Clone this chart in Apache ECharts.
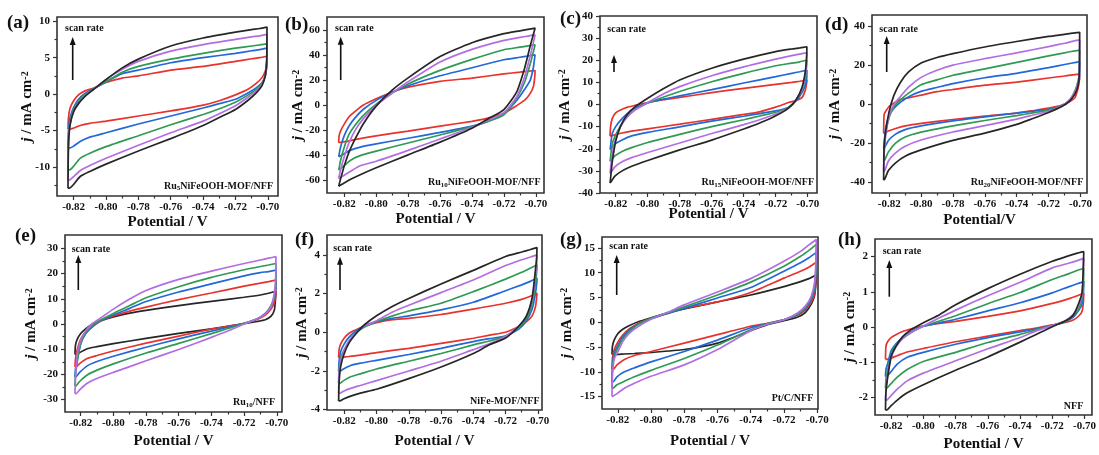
<!DOCTYPE html>
<html>
<head>
<meta charset="utf-8">
<script src="https://cdn.jsdelivr.net/npm/echarts@6/dist/echarts.min.js"></script>
<style>
  html, body { margin: 0; padding: 0; background: #fff; }
  #chart { width: 1099px; height: 455px; }
</style>
</head>
<body>
<div id="chart"></div>
<script>
// Potential sampling points (V): anodic sweep, then cathodic sweep back to the start
const sweepForward = [-0.8235, -0.8232, -0.8222, -0.8200, -0.8170, -0.8130, -0.8080, -0.8000, -0.7900, -0.7800, -0.7600, -0.7400, -0.7200, -0.7100, -0.7050, -0.7005];
const sweepReverse = [-0.7007, -0.7015, -0.7035, -0.7070, -0.7120, -0.7200, -0.7300, -0.7400, -0.7600, -0.7800, -0.8000, -0.8100, -0.8160, -0.8205, -0.8228];

// Current density (mA cm^-2): 16 forward values followed by 15 reverse values
// (a) Ru5NiFeOOH-MOF/NFF
const aRed    = [-4.8, -3.2, -1.9, -0.9, -0.1, 0.45, 0.8, 1.6, 2.2, 2.5, 3.3, 3.8, 4.5, 4.85, 5.0, 5.2,   4.3, 3.2, 2.3, 1.5, 0.7, -0.1, -0.9, -1.5, -2.3, -3.0, -3.7, -4.0, -4.3, -4.7, -4.8];
const aBlue   = [-7.4, -5.0, -3.2, -1.8, -0.7, 0.1, 0.7, 1.7, 2.8, 3.3, 4.3, 5.0, 5.6, 5.95, 6.1, 6.3,   3.9, 2.6, 1.6, 0.9, 0.2, -0.7, -1.3, -1.9, -3.0, -4.1, -5.3, -5.9, -6.5, -7.2, -7.4];
const aGreen  = [-10.4, -6.0, -3.7, -2.1, -1.0, -0.1, 0.7, 1.7, 3.0, 3.8, 4.8, 5.6, 6.3, 6.6, 6.75, 6.9,   4.0, 2.6, 1.5, 0.7, -0.1, -1.1, -2.0, -2.8, -4.2, -5.7, -7.2, -8.1, -8.8, -10.0, -10.4];
const aPurple = [-11.8, -6.5, -4.0, -2.3, -1.2, -0.2, 0.6, 2.0, 3.4, 4.5, 5.9, 6.8, 7.5, 7.85, 8.0, 8.2,   4.2, 2.6, 1.4, 0.5, -0.4, -1.6, -2.7, -3.7, -5.3, -7.0, -8.8, -9.8, -10.5, -11.4, -11.8];
const aBlack  = [-12.9, -7.0, -4.2, -2.4, -1.3, -0.3, 0.6, 2.0, 3.6, 4.8, 6.6, 7.7, 8.5, 8.85, 9.0, 9.2,   4.5, 2.6, 1.2, 0.2, -0.8, -2.1, -3.2, -4.3, -6.1, -7.8, -9.6, -10.6, -11.3, -12.5, -12.9];
// (b) Ru10NiFeOOH-MOF/NFF
const bRed    = [-30.1, -24.5, -20.5, -15.3, -9.4, -4.9, 0, 5, 10.4, 14.2, 18.9, 21.5, 24.8, 26.2, 26.9, 27.5,   22, 15, 9.3, 3.8, -0.5, -6.5, -10.5, -13, -16.9, -20.8, -24.6, -26.8, -28.4, -29.4, -29.9];
const bBlue   = [-41.3, -39.4, -33.1, -24.4, -16.7, -9.9, -3.4, 3.7, 10.1, 15.4, 23.3, 29.7, 36.1, 38.1, 39.1, 40,   38.1, 30.3, 19.8, 12.5, 3.6, -7, -13.1, -16.8, -21.9, -26.5, -31.0, -33.6, -36, -39.2, -40.8];
const bGreen  = [-52, -50.1, -43.7, -33.7, -23.5, -15.8, -8.2, 0.6, 9.5, 16.8, 27.6, 36.4, 44.1, 46.1, 47.1, 48,   46.9, 42.7, 32.8, 18.3, 5.5, -7.8, -13.1, -17.3, -23.9, -30.3, -36.8, -40.4, -44.0, -48.8, -51.3];
const bPurple = [-58.7, -57, -51.3, -41.3, -30.1, -19.8, -10.9, -0.2, 9.5, 18.5, 34.3, 44.4, 51.6, 53.9, 55, 56,   54.8, 50.2, 39.3, 22.5, 6.6, -6.2, -12.1, -17.8, -27.1, -36.2, -44.9, -48.5, -52.8, -56.4, -58.2];
const bBlack  = [-64.8, -63.4, -58.5, -48.6, -37.6, -26.7, -14.9, -0.9, 11.8, 21.6, 38.6, 49.7, 56.9, 59.2, 60.3, 61.3,   60.3, 56.6, 47.3, 29.6, 10.5, -3.6, -11.1, -18.5, -29.6, -39.8, -50.1, -55.6, -59.3, -62.6, -64.3];
// (c) Ru15NiFeOOH-MOF/NFF
const cRed    = [-14.3, -10, -6.5, -3.8, -2.5, -1.3, -0.4, 0.9, 2.2, 3.2, 5.4, 7.3, 9.1, 10, 10.5, 11,   9.5, 6.5, 3.2, 1.9, 0.9, -1.2, -3.3, -4.5, -6.7, -8.9, -11.0, -12.0, -12.9, -13.7, -14.2];
const cBlue   = [-20.4, -18.8, -13.2, -10, -7.2, -4.2, -1.6, 0.8, 2.4, 3.9, 6.7, 9.7, 12.6, 14.1, 14.8, 15.5,   11.2, 8.7, 5.5, 1.8, -1.2, -2.9, -4.1, -5.3, -7.5, -10.1, -12.6, -14.2, -16, -17.9, -19.8];
const cGreen  = [-25.7, -23.9, -17.9, -13.7, -9.7, -5.6, -2.4, 0.7, 3.4, 5.9, 10.3, 14.1, 17.5, 18.7, 19.3, 20,   17.5, 11.5, 6.8, 2.5, -1.3, -3.5, -5.2, -6.9, -10, -13.5, -17.2, -19.5, -21.2, -23.2, -25.1];
const cPurple = [-31.2, -29.1, -22.8, -15.5, -10.1, -5.9, -2.5, 0.8, 4.9, 8.1, 13, 17, 20.5, 22.1, 22.8, 23.4,   19.5, 13.2, 7.2, 2.4, -1.5, -4.3, -6.9, -9.1, -13.1, -17.4, -21.7, -24.0, -25.9, -28.2, -30.5];
const cBlack  = [-35.5, -33.4, -26.3, -16.6, -9.9, -4.7, -1.1, 2.8, 7.2, 11.1, 16.4, 20.5, 23.9, 25.1, 25.6, 26.1,   21.6, 15.0, 7.9, 2.4, -1.6, -5.1, -8.4, -11.1, -16.1, -20.5, -25.3, -27.9, -30.0, -32.4, -34.8];
// (d) Ru20NiFeOOH-MOF/NFF
const dRed    = [-15.2, -5.5, -3.8, -1.2, 0.5, 2.2, 3.1, 4.5, 6.3, 7.4, 9.6, 11.2, 13.3, 14.3, 14.9, 15.3,   12, 8, 3.1, 1.1, -0.7, -2.2, -3.5, -4.7, -6.3, -8.0, -10.0, -11.3, -12.6, -13.9, -14.9];
const dBlue   = [-22.9, -20.3, -12.2, -5.8, -2.2, 0.8, 3.6, 6.4, 8.4, 10.4, 13.4, 15.7, 18.6, 20.2, 21, 21.7,   12.5, 10.2, 5.8, 1.3, -1.1, -2.8, -3.8, -4.7, -6.7, -8.7, -11.3, -13.2, -15.5, -18.8, -22.3];
const dGreen  = [-29.2, -24.3, -15.1, -6.8, -1.3, 2, 5.4, 9.8, 12.3, 14.7, 18, 21.3, 24.6, 26.2, 27, 27.6,   15.6, 11.7, 6.7, 1.8, -1.1, -3.2, -4.6, -6, -8.5, -11.3, -14.5, -17, -20.1, -24.6, -28.8];
const dPurple = [-34.8, -25.9, -15.7, -5.9, -0.2, 3.7, 8.5, 13.6, 17.3, 19.9, 23.2, 26.2, 29.4, 31.1, 32.1, 32.8,   16, 11.2, 6, 1.9, -1.2, -3.8, -5.8, -7.8, -11.1, -14.4, -18.5, -21.7, -25.1, -29.3, -34.3];
const dBlack  = [-39.1, -22, -14, -3.7, 4.5, 11, 16.3, 21, 23.8, 25.8, 29.2, 32, 34.6, 35.7, 36.3, 36.7,   16, 9.5, 5, 1.3, -1.5, -4.4, -7.5, -10.5, -15, -18.7, -23.6, -26.8, -30.2, -34.2, -38.6];
// (e) Ru10/NFF
const eBlack  = [-12.1, -8.5, -6.2, -3.8, -1.9, -0.1, 1.2, 2.8, 4.3, 5.4, 7.3, 9, 10.6, 11.5, 12.2, 13,   10.5, 5.5, 3.1, 1.7, 1.0, 0.1, -0.9, -1.9, -3.7, -5.7, -7.8, -9.0, -9.8, -11.3, -12.1];
const eRed    = [-17, -14, -10.4, -6, -3.4, -1.2, 1.1, 3.2, 5.1, 6.7, 9.7, 12.3, 15, 16.2, 16.8, 17.4,   11.5, 8.5, 5.9, 3.5, 1.8, 0.3, -0.9, -2.0, -4.8, -7.6, -10.7, -12.5, -13.7, -15.6, -17];
const eBlue   = [-21, -18, -14.2, -7.8, -3.9, -1.1, 1.3, 3.6, 6.2, 8.9, 12.7, 15.9, 19.1, 20.4, 20.8, 21.4,   13, 10.3, 7.2, 4.2, 2.1, 0.3, -1.3, -2.8, -5.9, -9.2, -12.8, -14.9, -16.6, -19.1, -20.9];
const eGreen  = [-24.6, -20.5, -15.4, -7.8, -3.5, -0.7, 1.5, 4.2, 7.3, 10.4, 14.8, 18.5, 21.5, 22.8, 23.4, 24,   15.5, 10.9, 7.3, 4.1, 2.0, 0.2, -1.8, -3.8, -7.7, -11.5, -15.8, -18.3, -20.2, -22.7, -24.5];
const ePurple = [-27.6, -22, -12.5, -6.4, -2.8, 0.1, 2.3, 5.9, 9.9, 13.3, 17.7, 21, 24, 25.4, 26.1, 26.7,   18, 12.1, 7, 3.9, 2.1, 0, -2.8, -5.3, -10.1, -14.6, -19.2, -21.6, -23.5, -26, -27.6];
// (f) NiFe-MOF/NFF
const fRed    = [-1.31, -0.9, -0.6, -0.3, -0.05, 0.12, 0.3, 0.5, 0.65, 0.72, 0.92, 1.2, 1.5, 1.7, 1.85, 2.02,   1.8, 1.3, 0.85, 0.55, 0.28, 0.0, -0.15, -0.31, -0.57, -0.83, -1.05, -1.18, -1.24, -1.29, -1.31];
const fBlue   = [-2.03, -1.5, -1.0, -0.6, -0.25, 0.05, 0.3, 0.55, 0.72, 0.85, 1.16, 1.55, 2.15, 2.45, 2.62, 2.79,   2.5, 2.0, 1.2, 0.6, 0.15, -0.2, -0.33, -0.48, -0.83, -1.15, -1.45, -1.6, -1.72, -1.9, -2.03];
const fGreen  = [-2.64, -1.9, -1.3, -0.9, -0.45, -0.05, 0.25, 0.55, 0.85, 1.1, 1.5, 2.1, 2.75, 3.1, 3.3, 3.48,   3.1, 2.5, 1.5, 0.7, 0.25, -0.2, -0.45, -0.65, -1.1, -1.5, -1.9, -2.15, -2.3, -2.5, -2.64];
const fPurple = [-3.16, -2.1, -1.45, -0.95, -0.45, -0.05, 0.3, 0.6, 1.05, 1.4, 2.05, 2.7, 3.45, 3.75, 3.88, 4.0,   3.5, 2.9, 1.7, 0.85, 0.3, -0.22, -0.6, -0.9, -1.5, -2.0, -2.5, -2.75, -2.9, -3.05, -3.16];
const fBlack  = [-3.55, -2.6, -1.75, -1.1, -0.55, -0.1, 0.35, 0.85, 1.35, 1.75, 2.5, 3.2, 3.92, 4.15, 4.27, 4.38,   3.9, 3.2, 1.8, 0.85, 0.3, -0.3, -0.65, -1.1, -1.8, -2.4, -2.95, -3.15, -3.3, -3.45, -3.55];
// (g) Pt/C/NFF
const gBlack  = [-6.5, -4.8, -3.6, -2.3, -1.4, -0.65, 0.05, 0.9, 1.9, 2.7, 4.1, 5.5, 7.2, 8.2, 8.8, 9.6,   8.0, 5.5, 3.7, 2.0, 1.0, 0.3, -0.5, -1.7, -4.2, -5.5, -6.1, -6.3, -6.4, -6.5, -6.5];
const gRed    = [-9.5, -7.3, -5.6, -4, -2.6, -1.3, -0.3, 0.8, 1.8, 2.8, 4.1, 6, 8.9, 10.3, 11.1, 12.1,   9.3, 5.8, 4.1, 2.5, 1.4, 0.5, -0.2, -0.8, -2.5, -4.2, -5.9, -6.7, -7.5, -8.6, -9.5];
const gBlue   = [-12, -8.8, -6.3, -4.7, -3.0, -1.6, -0.4, 0.7, 1.8, 2.8, 4.9, 7.0, 10.3, 12, 13, 14.1,   10.5, 6.8, 4.6, 2.8, 1.5, 0.5, -0.3, -1.1, -3.6, -5.9, -8, -9.2, -10, -11, -12];
const gGreen  = [-13.3, -9.5, -7, -5.2, -3.4, -1.9, -0.5, 0.8, 1.9, 3.1, 5.5, 8.1, 11.3, 13.3, 14.5, 15.7,   11.5, 7.5, 5.0, 3.0, 1.6, 0.5, -0.3, -1.5, -4.6, -7.3, -9.7, -11, -11.9, -12.6, -13.3];
const gPurple = [-15, -10.6, -7.5, -5.95, -3.9, -2.2, -0.9, 0.6, 2.0, 3.5, 6.1, 8.8, 12.3, 14.3, 15.6, 16.7,   12.5, 8.2, 5.3, 3.3, 1.8, 0.5, -0.4, -1.7, -5.5, -8.6, -10.9, -12.3, -13.3, -14.4, -14.9];
// (h) NFF
const hRed    = [-0.92, -0.55, -0.42, -0.3, -0.22, -0.13, -0.06, 0.03, 0.1, 0.16, 0.3, 0.46, 0.67, 0.8, 0.88, 0.96,   0.72, 0.45, 0.32, 0.2, 0.13, 0.06, -0.03, -0.1, -0.26, -0.42, -0.61, -0.71, -0.81, -0.89, -0.92];
const hBlue   = [-1.41, -1.2, -1.05, -0.68, -0.48, -0.3, -0.14, 0.02, 0.12, 0.22, 0.46, 0.69, 0.97, 1.14, 1.22, 1.29,   0.95, 0.66, 0.48, 0.28, 0.15, 0.05, -0.05, -0.14, -0.3, -0.49, -0.72, -0.86, -1.05, -1.29, -1.41];
const hGreen  = [-1.74, -1.5, -1.24, -0.8, -0.5, -0.33, -0.17, 0.02, 0.17, 0.32, 0.66, 0.98, 1.35, 1.51, 1.6, 1.67,   1.2, 0.81, 0.52, 0.33, 0.16, 0.04, -0.08, -0.21, -0.44, -0.72, -0.98, -1.21, -1.42, -1.63, -1.74];
const hPurple = [-2.08, -1.8, -1.38, -0.88, -0.56, -0.34, -0.16, 0.03, 0.26, 0.48, 0.89, 1.27, 1.68, 1.81, 1.88, 1.95,   1.6, 0.9, 0.62, 0.36, 0.18, 0.04, -0.11, -0.3, -0.62, -0.96, -1.31, -1.53, -1.76, -1.97, -2.08];
const hBlack  = [-2.36, -1.84, -1.45, -0.84, -0.55, -0.28, -0.09, 0.12, 0.35, 0.63, 1.09, 1.5, 1.87, 2.02, 2.09, 2.14,   1.8, 1.0, 0.69, 0.34, 0.17, 0.01, -0.21, -0.43, -0.85, -1.23, -1.64, -1.87, -2.07, -2.26, -2.36];

// Tick values
const xMajorTicks = [-0.82, -0.80, -0.78, -0.76, -0.74, -0.72, -0.70];
const xMinorTicks = [-0.81, -0.79, -0.77, -0.75, -0.73, -0.71];
const aYMajor = [-10, -5, 0, 5, 10];        const aYMinor = [-12.5, -7.5, -2.5, 2.5, 7.5];
const bYMajor = [-60, -40, -20, 0, 20, 40, 60]; const bYMinor = [-50, -30, -10, 10, 30, 50];
const cYMajor = [-40, -30, -20, -10, 0, 10, 20, 30, 40]; const cYMinor = [-35, -25, -15, -5, 5, 15, 25, 35];
const dYMajor = [-40, -20, 0, 20, 40];      const dYMinor = [-30, -10, 10, 30];
const eYMajor = [-30, -20, -10, 0, 10, 20, 30]; const eYMinor = [-25, -15, -5, 5, 15, 25];
const fYMajor = [-4, -2, 0, 2, 4];          const fYMinor = [-3, -1, 1, 3];
const gYMajor = [-15, -10, -5, 0, 5, 10, 15]; const gYMinor = [-12.5, -7.5, -2.5, 2.5, 7.5, 12.5];
const hYMajor = [-2, -1, 0, 1, 2];          const hYMinor = [-1.5, -0.5, 0.5, 1.5];

// Text
const panelLetters = ['(a)', '(b)', '(c)', '(d)', '(e)', '(f)', '(g)', '(h)'];
const sampleNames = ['Ru{s|5}NiFeOOH-MOF/NFF', 'Ru{s|10}NiFeOOH-MOF/NFF', 'Ru{s|15}NiFeOOH-MOF/NFF', 'Ru{s|20}NiFeOOH-MOF/NFF',
                     'Ru{s|10}/NFF', 'NiFe-MOF/NFF', 'Pt/C/NFF', 'NFF'];
const xTitles = ['Potential / V', 'Potential / V', 'Potential / V', 'Potential/V',
                 'Potential / V', 'Potential / V', 'Potential / V', 'Potential / V'];

const COLORS = { red: '#e8322c', blue: '#2168d8', green: '#2f9a52', purple: '#b36de3', black: '#262626' };
const SERIF = '"Liberation Serif", "Times New Roman", serif';

// Layout of each panel: plot box in px, axis ranges, label placements
const panels = [
  { box: [57, 17, 278, 196],   xr: [-0.8303, -0.6937], yr: [-13.97, 10.58], yMaj: aYMajor, yMin: aYMinor, yGap: 22, xGap: 19,
    loops: [['red', aRed], ['blue', aBlue], ['green', aGreen], ['purple', aPurple], ['black', aBlack]],
    letter: [7, 23], scan: [65, 28], arrow: [72.7, 37, 80], inner: [273, 186] },
  { box: [327, 17, 544, 193],  xr: [-0.8308, -0.6949], yr: [-70.2, 70.2], yMaj: bYMajor, yMin: bYMinor, yGap: 21, xGap: 19,
    loops: [['red', bRed], ['blue', bBlue], ['green', bGreen], ['purple', bPurple], ['black', bBlack]],
    letter: [285, 25], scan: [335, 28.3], arrow: [340.7, 36.7, 80], inner: [540.5, 182.7] },
  { box: [600, 16, 817, 193],  xr: [-0.8298, -0.6942], yr: [-40, 40], yMaj: cYMajor, yMin: cYMinor, yGap: 27.5, xGap: 14,
    loops: [['red', cRed], ['blue', cBlue], ['green', cGreen], ['purple', cPurple], ['black', cBlack]],
    letter: [560, 19], scan: [607.3, 29.3], arrow: [614, 55, 72], inner: [814, 182.7] },
  { box: [872, 15, 1087, 193], xr: [-0.8308, -0.6959], yr: [-45.7, 45.6], yMaj: dYMajor, yMin: dYMinor, yGap: 29, xGap: 20,
    loops: [['red', dRed], ['blue', dBlue], ['green', dGreen], ['purple', dPurple], ['black', dBlack]],
    letter: [825, 25], scan: [879.3, 29.3], arrow: [886.7, 36, 72], inner: [1083.3, 182.7] },
  { box: [65, 235, 282, 412],  xr: [-0.8296, -0.6968], yr: [-34.9, 35.3], yMaj: eYMajor, yMin: eYMinor, yGap: 26, xGap: 22,
    loops: [['black', eBlack], ['red', eRed], ['blue', eBlue], ['green', eGreen], ['purple', ePurple]],
    letter: [15, 236], scan: [71.7, 249], arrow: [78.3, 255, 290], inner: [275, 402.7] },
  { box: [327, 235, 542, 410], xr: [-0.8307, -0.6974], yr: [-4.02, 5.03], yMaj: fYMajor, yMin: fYMinor, yGap: 17.5, xGap: 24,
    loops: [['red', fRed], ['blue', fBlue], ['green', fGreen], ['purple', fPurple], ['black', fBlack]],
    letter: [295, 240], scan: [333.3, 248.3], arrow: [340, 256.7, 290], inner: [539.5, 401.7] },
  { box: [602, 237, 818, 409], xr: [-0.8295, -0.6995], yr: [-17.5, 17.2], yMaj: gYMajor, yMin: gYMinor, yGap: 27.5, xGap: 25,
    loops: [['black', gBlack], ['red', gRed], ['blue', gBlue], ['green', gGreen], ['purple', gPurple]],
    letter: [560, 240], scan: [609.3, 246.7], arrow: [616.7, 255, 295], inner: [813.3, 398.3] },
  { box: [875, 239, 1095, 415], xr: [-0.8300, -0.6954], yr: [-2.5, 2.5], yMaj: hYMajor, yMin: hYMinor, yGap: 17.5, xGap: 22,
    loops: [['red', hRed], ['blue', hBlue], ['green', hGreen], ['purple', hPurple], ['black', hBlack]],
    letter: [838, 240], scan: [882.7, 251.7], arrow: [889.3, 260, 296.7], inner: [1083.3, 406.7] }
];

// Turn a list of currents into a closed voltammogram path
function loopPoints(values) {
  const potentials = sweepForward.concat(sweepReverse);
  const pts = potentials.map((v, i) => [v, values[i]]);
  pts.push(pts[0].slice());
  return pts;
}

const grids = [], xAxes = [], yAxes = [], series = [], graphics = [];
const n = panels.length;
const tickStyle = { color: '#333', width: 1.2 };
const labelFont = { fontFamily: SERIF, fontWeight: 'bold', fontSize: 11, color: '#111' };
const hiddenLine = { show: false, onZero: false };

panels.forEach((p, i) => {
  const [L, T, R, B] = p.box;
  grids.push({ left: L, top: T, width: R - L, height: B - T, show: true,
               borderColor: '#333', borderWidth: 1.6, backgroundColor: 'transparent', containLabel: false });
  xAxes[i] = {
    type: 'value', gridIndex: i, min: p.xr[0], max: p.xr[1], position: 'bottom',
    axisLine: hiddenLine, splitLine: { show: false },
    axisTick: { show: true, length: 4, customValues: xMajorTicks, lineStyle: tickStyle },
    axisLabel: Object.assign({ customValues: xMajorTicks, margin: 6, formatter: v => v.toFixed(2) }, labelFont),
    name: xTitles[i], nameLocation: 'middle', nameGap: p.xGap, nameMoveOverlap: false,
    nameTextStyle: { fontFamily: SERIF, fontWeight: 'bold', fontSize: 15, color: '#111' }
  };
  xAxes[n + i] = {
    type: 'value', gridIndex: i, min: p.xr[0], max: p.xr[1], position: 'bottom',
    axisLine: hiddenLine, splitLine: { show: false }, axisLabel: { show: false },
    axisTick: { show: true, length: 2.5, customValues: xMinorTicks, lineStyle: tickStyle }
  };
  yAxes[i] = {
    type: 'value', gridIndex: i, min: p.yr[0], max: p.yr[1], position: 'left',
    axisLine: hiddenLine, splitLine: { show: false },
    axisTick: { show: true, length: 4, customValues: p.yMaj, lineStyle: tickStyle },
    axisLabel: Object.assign({ customValues: p.yMaj, margin: 7 }, labelFont),
    name: '{i|j} / mA cm{sup|-2}', nameLocation: 'middle', nameGap: p.yGap, nameRotate: 90, nameMoveOverlap: false,
    nameTextStyle: {
      fontFamily: SERIF, fontWeight: 'bold', fontSize: 15, color: '#111',
      rich: {
        i: { fontFamily: SERIF, fontWeight: 'bold', fontStyle: 'italic', fontSize: 15, color: '#111' },
        sup: { fontFamily: SERIF, fontWeight: 'bold', fontSize: 10, color: '#111', verticalAlign: 'top', lineHeight: 10 }
      }
    }
  };
  yAxes[n + i] = {
    type: 'value', gridIndex: i, min: p.yr[0], max: p.yr[1], position: 'left',
    axisLine: hiddenLine, splitLine: { show: false }, axisLabel: { show: false },
    axisTick: { show: true, length: 2.5, customValues: p.yMin, lineStyle: tickStyle }
  };

  p.loops.forEach(([colorName, values]) => {
    series.push({
      type: 'line', xAxisIndex: i, yAxisIndex: i, data: loopPoints(values),
      showSymbol: false, symbol: 'none', smooth: 0.2, clip: true, silent: true,
      lineStyle: { color: COLORS[colorName], width: 1.7 }, itemStyle: { color: COLORS[colorName] }
    });
  });

  // panel letter
  graphics.push({ type: 'text', x: p.letter[0], y: p.letter[1], silent: true,
    style: { text: panelLetters[i], font: 'bold 19px ' + SERIF, fill: '#111', align: 'left', verticalAlign: 'middle' } });
  // scan rate note with arrow
  graphics.push({ type: 'text', x: p.scan[0], y: p.scan[1], silent: true,
    style: { text: 'scan rate', font: 'bold 10px ' + SERIF, fill: '#111', align: 'left', verticalAlign: 'middle' } });
  const [ax, tipY, baseY] = p.arrow;
  graphics.push({ type: 'line', silent: true, shape: { x1: ax, y1: baseY, x2: ax, y2: tipY + 6 },
    style: { stroke: '#111', lineWidth: 1.6 } });
  graphics.push({ type: 'polygon', silent: true, shape: { points: [[ax, tipY], [ax - 3, tipY + 8], [ax + 3, tipY + 8]] },
    style: { fill: '#111' } });
  // sample name
  graphics.push({ type: 'text', x: p.inner[0], y: p.inner[1], silent: true,
    style: { text: sampleNames[i], font: 'bold 10px ' + SERIF, fill: '#111', align: 'right', verticalAlign: 'middle',
             rich: { s: { font: 'bold 7px ' + SERIF, fill: '#111', verticalAlign: 'bottom', padding: [5, 0, 0, 0] } } } });
});

const chart = echarts.init(document.getElementById('chart'), null, { renderer: 'canvas' });
chart.setOption({
  animation: false,
  backgroundColor: '#ffffff',
  textStyle: { fontFamily: SERIF },
  grid: grids,
  xAxis: xAxes,
  yAxis: yAxes,
  series: series,
  graphic: graphics
});
</script>
</body>
</html>
